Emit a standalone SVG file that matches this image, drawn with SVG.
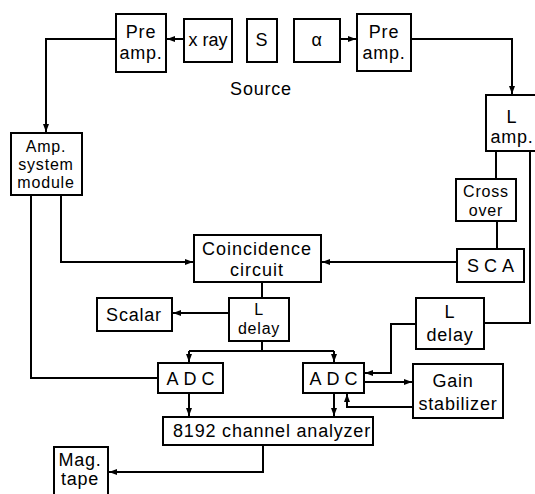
<svg xmlns="http://www.w3.org/2000/svg" width="535" height="494" viewBox="0 0 535 494">
<defs>
<style>
.box{fill:#fff;stroke:#000;stroke-width:2}
.ln{fill:none;stroke:#000;stroke-width:2}
text{font-family:"Liberation Sans","DejaVu Sans",sans-serif;font-size:18px;fill:#000;text-anchor:middle;letter-spacing:0.8px}
.sm{font-size:16px;letter-spacing:0.8px}
.sp{letter-spacing:5px}
</style>
<marker id="ah" markerWidth="8" markerHeight="8" viewBox="0 0 8 8" refX="8" refY="4" orient="auto" markerUnits="userSpaceOnUse">
<path d="M0,1 L8,4 L0,7 Z" fill="#000"/>
</marker>
</defs>
<rect width="535" height="494" fill="#fff"/>
<g id="connectors">
<path class="ln" d="M184,39 H167" marker-end="url(#ah)"/>
<path class="ln" d="M116,39 H46 V132" marker-end="url(#ah)"/>
<path class="ln" d="M340,39 H356" marker-end="url(#ah)"/>
<path class="ln" d="M411,39 H512 V94" marker-end="url(#ah)"/>
<path class="ln" d="M496,151 V179"/>
<path class="ln" d="M497,221 V249"/>
<path class="ln" d="M457,262 H322" marker-end="url(#ah)"/>
<path class="ln" d="M61,195 V262 H193" marker-end="url(#ah)"/>
<path class="ln" d="M31,195 V378 H158"/>
<path class="ln" d="M262,282 V298"/>
<path class="ln" d="M229,313 H173" marker-end="url(#ah)"/>
<path class="ln" d="M262,341 V351"/>
<path class="ln" d="M189,351 H334"/>
<path class="ln" d="M189,351 V362" marker-end="url(#ah)"/>
<path class="ln" d="M334,351 V362" marker-end="url(#ah)"/>
<path class="ln" d="M530,151 V323 H484"/>
<path class="ln" d="M416,324 H391 V373 H365" marker-end="url(#ah)"/>
<path class="ln" d="M364,382 H412" marker-end="url(#ah)"/>
<path class="ln" d="M413,407 H347 V394" marker-end="url(#ah)"/>
<path class="ln" d="M189,393 V416" marker-end="url(#ah)"/>
<path class="ln" d="M334,393 V416" marker-end="url(#ah)"/>
<path class="ln" d="M263,445 V472 H109" marker-end="url(#ah)"/>
</g>
<g id="preamp-left"><rect class="box" x="116" y="14" width="50" height="58"/><text x="141" y="38">Pre</text><text x="141" y="59">amp.</text></g>
<g id="xray"><rect class="box" x="184" y="19" width="48" height="43"/><text x="208" y="46" style="letter-spacing:0">x ray</text></g>
<g id="s"><rect class="box" x="247" y="19" width="30" height="43"/><text x="262" y="46">S</text></g>
<g id="alpha"><rect class="box" x="294" y="19" width="46" height="43"/><text x="317" y="46">α</text></g>
<g id="source-label"><text x="261" y="95">Source</text></g>
<g id="preamp-right"><rect class="box" x="357" y="14" width="54" height="57"/><text x="384" y="38">Pre</text><text x="384" y="59">amp.</text></g>
<g id="amp-system"><rect class="box" x="11" y="133" width="71" height="62"/><text class="sm" x="46" y="152">Amp.</text><text class="sm" x="46" y="170">system</text><text class="sm" x="46" y="188">module</text></g>
<g id="l-amp"><rect class="box" x="486" y="95" width="54" height="56"/><text x="512" y="123">L</text><text x="512" y="143">amp.</text></g>
<g id="crossover"><rect class="box" x="456" y="179" width="60" height="42"/><text class="sm" x="486" y="197">Cross</text><text class="sm" x="486" y="216">over</text></g>
<g id="sca"><rect class="box" x="457" y="249" width="67" height="33"/><text class="sp" x="493" y="272">SCA</text></g>
<g id="coincidence"><rect class="box" x="194" y="235" width="127" height="47"/><text x="257" y="255" style="letter-spacing:1px">Coincidence</text><text x="257" y="276" style="letter-spacing:1px">circuit</text></g>
<g id="scalar"><rect class="box" x="97" y="298" width="75" height="33"/><text x="134" y="321">Scalar</text></g>
<g id="l-delay-mid"><rect class="box" x="229" y="298" width="60" height="43"/><text class="sm" x="259" y="315">L</text><text class="sm" x="259" y="334">delay</text></g>
<g id="l-delay-right"><rect class="box" x="416" y="298" width="68" height="51"/><text x="450" y="318">L</text><text x="450" y="341">delay</text></g>
<g id="adc-left"><rect class="box" x="158" y="363" width="65" height="30"/><text class="sp" x="193" y="385">ADC</text></g>
<g id="adc-right"><rect class="box" x="303" y="363" width="61" height="30"/><text class="sp" x="336" y="385">ADC</text></g>
<g id="gain-stabilizer"><rect class="box" x="413" y="364" width="90" height="54"/><text x="453" y="387">Gain</text><text x="458" y="410">stabilizer</text></g>
<g id="analyzer"><rect class="box" x="163" y="417" width="210" height="28"/><text x="272" y="437">8192 channel analyzer</text></g>
<g id="mag-tape"><rect class="box" x="54" y="447" width="54" height="52"/><text x="80" y="466">Mag.</text><text x="80" y="485">tape</text></g>
</svg>
